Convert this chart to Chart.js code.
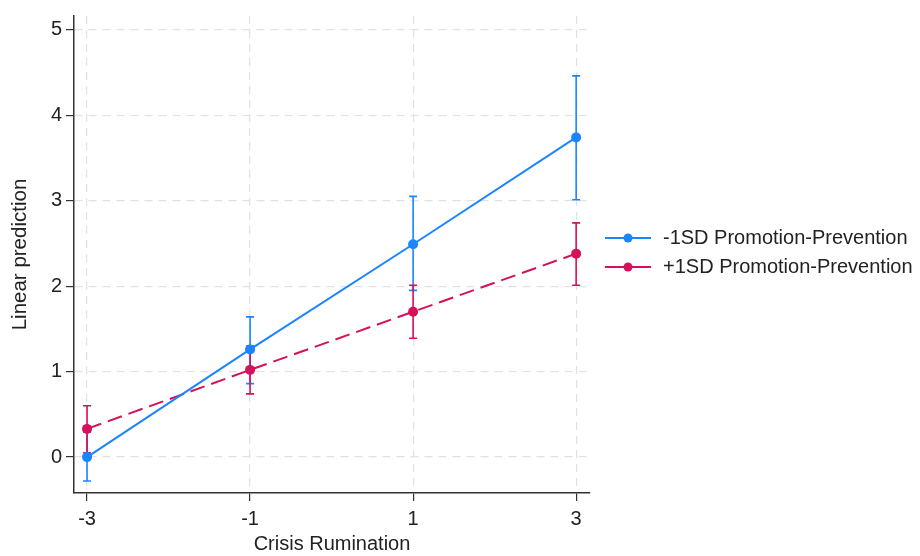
<!DOCTYPE html>
<html>
<head>
<meta charset="utf-8">
<script src="https://cdn.jsdelivr.net/npm/chart.js@4/dist/chart.umd.min.js"></script>
<style>
  html, body { margin: 0; padding: 0; background: #fff; }
  #wrap { position: relative; width: 920px; height: 556px; }
  #legend { position: absolute; left: 604px; top: 223px; font-family: "Liberation Sans", Arial, sans-serif; font-size: 20px; color: #222; }
  .item { display: flex; align-items: center; height: 29px; }
  .item svg { margin-right: 11px; }
</style>
</head>
<body>
<div id="wrap">
  <canvas id="chart" width="920" height="556"></canvas>
  <div id="legend"></div>
</div>
<script>
const xValues = [-3, -1, 1, 3];
const xTicks = [-3, -1, 1, 3];
const yTicks = [0, 1, 2, 3, 4, 5];

const seriesNames = ["-1SD Promotion-Prevention", "+1SD Promotion-Prevention"];
const lowMean = [0.0, 1.26, 2.49, 3.74];
const lowLower = [-0.28, 0.86, 1.95, 3.01];
const lowUpper = [0.29, 1.64, 3.05, 4.46];
const highMean = [0.33, 1.02, 1.70, 2.38];
const highLower = [0.05, 0.74, 1.39, 2.01];
const highUpper = [0.60, 1.30, 2.01, 2.74];

const BLUE = "#1a85ff";
const RED = "#d41159";
const FONT = "'Liberation Sans', Arial, sans-serif";

const errorBars = {
  id: "errorBars",
  beforeDatasetsDraw(chart) {
    const { ctx, scales: { x, y } } = chart;
    chart.data.datasets.forEach((ds) => {
      ctx.save();
      ctx.strokeStyle = ds.borderColor;
      ctx.lineWidth = 1.6;
      ctx.setLineDash([]);
      ds.data.forEach((p, i) => {
        const px = x.getPixelForValue(p.x);
        const top = y.getPixelForValue(ds.upper[i]);
        const bot = y.getPixelForValue(ds.lower[i]);
        ctx.beginPath();
        ctx.moveTo(px, top); ctx.lineTo(px, bot);
        ctx.moveTo(px - 4, top); ctx.lineTo(px + 4, top);
        ctx.moveTo(px - 4, bot); ctx.lineTo(px + 4, bot);
        ctx.stroke();
      });
      ctx.restore();
    });
  }
};

function toPoints(values) {
  return xValues.map((x, i) => ({ x, y: values[i] }));
}

new Chart(document.getElementById("chart"), {
  type: "line",
  data: {
    datasets: [
      {
        label: seriesNames[0],
        data: toPoints(lowMean),
        lower: lowLower,
        upper: lowUpper,
        borderColor: BLUE,
        backgroundColor: BLUE,
        borderWidth: 2,
        pointRadius: 5,
        pointBorderWidth: 0
      },
      {
        label: seriesNames[1],
        data: toPoints(highMean),
        lower: highLower,
        upper: highUpper,
        borderColor: RED,
        backgroundColor: RED,
        borderWidth: 2,
        borderDash: [15, 7],
        pointRadius: 5,
        pointBorderWidth: 0
      }
    ]
  },
  options: {
    responsive: false,
    animation: false,
    layout: { padding: { top: 10, right: 330, left: 0, bottom: 0 } },
    plugins: { legend: { display: false }, tooltip: { enabled: false } },
    scales: {
      x: {
        type: "linear",
        min: -3.16,
        max: 3.17,
        afterBuildTicks: (s) => { s.ticks = xTicks.map((v) => ({ value: v })); },
        afterFit: (s) => { s.height = 63; },
        grid: { color: "#e2e2e2", lineWidth: 1.2, tickColor: "#333", tickLength: 8, drawTicks: true },
        border: { display: true, color: "#333", width: 1.5, dash: [8, 6] },
        ticks: { color: "#222", font: { family: FONT, size: 20 }, padding: 6, maxRotation: 0 },
        title: { display: true, text: "Crisis Rumination", color: "#222", font: { family: FONT, size: 20 }, padding: { top: 0, bottom: 0 } }
      },
      y: {
        type: "linear",
        min: -0.42,
        max: 5.16,
        afterBuildTicks: (s) => { s.ticks = yTicks.map((v) => ({ value: v })); },
        afterFit: (s) => { s.width = 74; },
        grid: { color: "#e2e2e2", lineWidth: 1.2, tickColor: "#333", tickLength: 8, drawTicks: true },
        border: { display: true, color: "#333", width: 1.5, dash: [8, 6] },
        ticks: { color: "#222", font: { family: FONT, size: 20 }, padding: 4 },
        title: { display: true, text: "Linear prediction", color: "#222", font: { family: FONT, size: 20.5 }, padding: { top: 8, bottom: 4 } }
      }
    }
  },
  plugins: [errorBars]
});

const legend = document.getElementById("legend");
[[seriesNames[0], BLUE], [seriesNames[1], RED]].forEach(([name, color]) => {
  const item = document.createElement("div");
  item.className = "item";
  item.innerHTML =
    `<svg width="48" height="12"><line x1="1" y1="6" x2="47" y2="6" stroke="${color}" stroke-width="2"/>` +
    `<circle cx="24" cy="6" r="4.5" fill="${color}"/></svg><span>${name}</span>`;
  legend.appendChild(item);
});
</script>
</body>
</html>
